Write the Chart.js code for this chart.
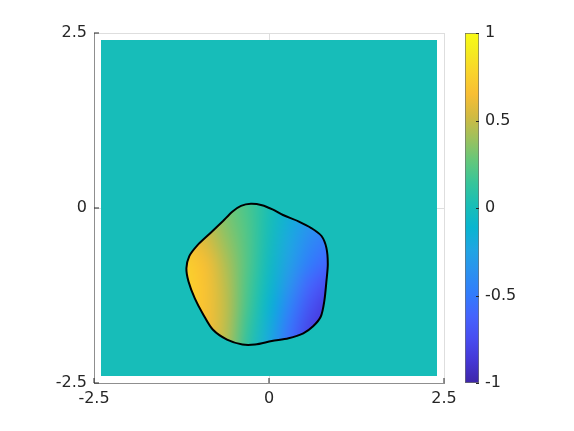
<!DOCTYPE html>
<html>
<head>
<meta charset="utf-8">
<script src="https://cdn.jsdelivr.net/npm/chart.js@4"></script>
<style>
  html, body { margin: 0; padding: 0; background: #fff; }
  #wrap { position: relative; width: 574px; height: 431px; }
  #main { position: absolute; left: 0; top: 0; }
  #bar { position: absolute; left: 440px; top: 0; }
</style>
</head>
<body>
<div id="wrap">
  <canvas id="main" width="574" height="431"></canvas>
  <canvas id="bar" width="134" height="431"></canvas>
</div>
<script>
// outline of the region (clockwise, starting on the upper-left edge)
const edgeX = [-0.66, -0.52, -0.40, -0.26, -0.10, 0.05, 0.20, 0.42, 0.61, 0.75, 0.82, 0.84, 0.82, 0.79, 0.74, 0.63, 0.49, 0.28, 0.04,
  -0.20, -0.38, -0.60, -0.80, -0.94, -1.06, -1.15, -1.18, -1.14, -1.03, -0.84, -0.66];
const edgeY = [-0.19, -0.05, 0.03, 0.06, 0.04, -0.02, -0.10, -0.19, -0.29, -0.40, -0.57, -0.80, -1.05, -1.33, -1.55, -1.69, -1.79, -1.86, -1.90,
  -1.95, -1.95, -1.88, -1.74, -1.52, -1.29, -1.05, -0.86, -0.69, -0.54, -0.36, -0.19];

// background square (value 0)
const squareX = [-2.4, -2.4, 2.4, 2.4, -2.4];
const squareY = [-2.4, 2.4, 2.4, -2.4, -2.4];
const squareValue = 0;

// values inside the region, sampled on a coarse grid
const gridX = [-1.2, -0.9, -0.6, -0.3, 0, 0.3, 0.6, 0.9];
const gridY = [0.1, -0.2, -0.5, -0.8, -1.1, -1.4, -1.7, -2.0];
const fieldValues = [
  [0.50, 0.44, 0.30, 0.18, 0.03, -0.14, -0.28, -0.36],
  [0.56, 0.48, 0.33, 0.20, 0.01, -0.18, -0.34, -0.42],
  [0.66, 0.56, 0.38, 0.21, -0.01, -0.23, -0.42, -0.52],
  [0.75, 0.64, 0.43, 0.21, -0.04, -0.28, -0.50, -0.62],
  [0.77, 0.67, 0.46, 0.19, -0.07, -0.36, -0.62, -0.76],
  [0.76, 0.67, 0.47, 0.17, -0.12, -0.45, -0.72, -0.86],
  [0.73, 0.65, 0.46, 0.13, -0.17, -0.53, -0.79, -0.90],
  [0.70, 0.62, 0.44, 0.09, -0.21, -0.58, -0.82, -0.92]
];

const axisTicks = [-2.5, 0, 2.5];
const barTicks = [-1, -0.5, 0, 0.5, 1];
const cMin = -1, cMax = 1;

// parula, every 4th of the 64 entries
const mapIdx = [0, 4, 8, 12, 16, 20, 24, 28, 32, 36, 40, 44, 48, 52, 56, 60, 63];
const mapRGB = [[62,38,168],[69,55,213],[72,77,240],[69,99,253],[50,124,252],[43,145,239],[32,165,227],
  [8,181,208],[25,190,182],[55,197,154],[100,199,123],[157,193,93],[209,186,66],[248,190,52],
  [249,212,43],[245,237,30],[249,251,21]];

function mapColor(v) {
  const p = Math.min(1, Math.max(0, (v - cMin) / (cMax - cMin))) * 63;
  let k = 0;
  while (k < mapIdx.length - 2 && p > mapIdx[k + 1]) k++;
  const f = (p - mapIdx[k]) / (mapIdx[k + 1] - mapIdx[k]);
  const a = mapRGB[k], b = mapRGB[k + 1];
  return [0, 1, 2].map(i => Math.round(a[i] + (b[i] - a[i]) * f));
}
function cssColor(v) {
  return 'rgb(' + mapColor(v).join(',') + ')';
}

Chart.defaults.font.family = "'DejaVu Sans', sans-serif";
Chart.defaults.font.size = 16;
Chart.defaults.color = '#262626';

// paint the sampled values inside the outline (dataset 0)
const fieldPlugin = {
  id: 'field',
  beforeDatasetDraw(chart, args) {
    if (args.index !== 0) return;
    const line = args.meta.dataset;
    const xs = chart.scales.x, ys = chart.scales.y;
    const ctx = chart.ctx;

    const img = document.createElement('canvas');
    img.width = gridX.length;
    img.height = gridY.length;
    const ic = img.getContext('2d');
    const pix = ic.createImageData(img.width, img.height);
    fieldValues.forEach((row, j) => row.forEach((v, i) => {
      const c = mapColor(v), o = (j * img.width + i) * 4;
      pix.data[o] = c[0];
      pix.data[o + 1] = c[1];
      pix.data[o + 2] = c[2];
      pix.data[o + 3] = 255;
    }));
    ic.putImageData(pix, 0, 0);

    const x0 = xs.getPixelForValue(gridX[0]), x1 = xs.getPixelForValue(gridX[gridX.length - 1]);
    const y0 = ys.getPixelForValue(gridY[0]), y1 = ys.getPixelForValue(gridY[gridY.length - 1]);
    const dx = (x1 - x0) / (gridX.length - 1), dy = (y1 - y0) / (gridY.length - 1);

    ctx.save();
    ctx.beginPath();
    line.updateControlPoints(chart.chartArea);
    line.path(ctx);
    ctx.closePath();
    ctx.clip();
    ctx.imageSmoothingEnabled = true;
    ctx.imageSmoothingQuality = 'high';
    ctx.drawImage(img, x0 - dx / 2, y0 - dy / 2, x1 - x0 + dx, y1 - y0 + dy);
    ctx.restore();
  }
};

// short inward ticks like the original axes
const mainTicks = {
  id: 'mainTicks',
  beforeDatasetsDraw(chart) {
    const ctx = chart.ctx, a = chart.chartArea;
    ctx.save();
    ctx.strokeStyle = '#262626';
    ctx.lineWidth = 1;
    ctx.beginPath();
    axisTicks.forEach(v => {
      const x = chart.scales.x.getPixelForValue(v);
      ctx.moveTo(x, a.bottom);
      ctx.lineTo(x, a.bottom - 5);
      const y = chart.scales.y.getPixelForValue(v);
      ctx.moveTo(a.left, y);
      ctx.lineTo(a.left + 5, y);
    });
    ctx.stroke();
    ctx.restore();
  }
};

const barTickMarks = {
  id: 'barTickMarks',
  afterDatasetsDraw(chart) {
    const ctx = chart.ctx, a = chart.chartArea;
    ctx.save();
    ctx.strokeStyle = '#262626';
    ctx.lineWidth = 1;
    ctx.beginPath();
    barTicks.forEach(v => {
      const y = Math.round(chart.scales.y.getPixelForValue(v)) + 0.5;
      ctx.moveTo(a.right, y);
      ctx.lineTo(a.right - 3, y);
    });
    ctx.stroke();
    ctx.restore();
  }
};

const setTicks = list => scale => { scale.ticks = list.map(v => ({ value: v })); };

new Chart(document.getElementById('main'), {
  type: 'scatter',
  data: {
    datasets: [
      {
        data: edgeX.map((x, i) => ({ x: x, y: edgeY[i] })),
        showLine: true,
        borderColor: '#000000',
        borderWidth: 2,
        pointRadius: 0,
        tension: 0.3,
        fill: false
      },
      {
        data: squareX.map((x, i) => ({ x: x, y: squareY[i] })),
        showLine: true,
        borderColor: 'rgba(0,0,0,0)',
        borderWidth: 1,
        pointRadius: 0,
        tension: 0,
        fill: 'shape',
        backgroundColor: cssColor(squareValue)
      }
    ]
  },
  options: {
    responsive: false,
    animation: false,
    events: [],
    layout: { padding: { left: 0, top: 33, right: 130, bottom: 0 } },
    plugins: { legend: { display: false }, tooltip: { enabled: false } },
    scales: {
      x: {
        type: 'linear',
        min: -2.5,
        max: 2.5,
        afterBuildTicks: setTicks(axisTicks),
        afterFit: s => { s.height = 48; },
        grid: { color: '#dedede', drawTicks: false },
        border: { color: '#8f8f8f', width: 1 },
        ticks: { padding: 6, autoSkip: false, maxRotation: 0 }
      },
      y: {
        type: 'linear',
        min: -2.5,
        max: 2.5,
        afterBuildTicks: setTicks(axisTicks),
        afterFit: s => { s.width = 94; },
        grid: { color: '#dedede', drawTicks: false },
        border: { color: '#8f8f8f', width: 1 },
        ticks: { padding: 7, autoSkip: false }
      }
    }
  },
  plugins: [fieldPlugin, mainTicks]
});

// colorbar
new Chart(document.getElementById('bar'), {
  type: 'bar',
  data: {
    labels: [''],
    datasets: [{
      data: [[cMin, cMax]],
      backgroundColor: c => {
        const a = c.chart.chartArea;
        if (!a) return null;
        const g = c.chart.ctx.createLinearGradient(0, a.bottom, 0, a.top);
        mapIdx.forEach((k, i) => g.addColorStop(k / 63, 'rgb(' + mapRGB[i].join(',') + ')'));
        return g;
      },
      borderColor: '#6e6e6e',
      borderWidth: 1,
      borderSkipped: false,
      barPercentage: 1,
      categoryPercentage: 1
    }]
  },
  options: {
    responsive: false,
    animation: false,
    events: [],
    layout: { padding: { left: 25, top: 33, right: 0, bottom: 48 } },
    plugins: { legend: { display: false }, tooltip: { enabled: false } },
    scales: {
      x: { display: false },
      y: {
        position: 'right',
        min: cMin,
        max: cMax,
        afterBuildTicks: setTicks(barTicks),
        afterFit: s => { s.width = 95; },
        grid: { display: false, drawTicks: false },
        border: { display: false },
        ticks: { padding: 6, autoSkip: false, callback: v => String(v) }
      }
    }
  },
  plugins: [barTickMarks]
});
</script>
</body>
</html>
